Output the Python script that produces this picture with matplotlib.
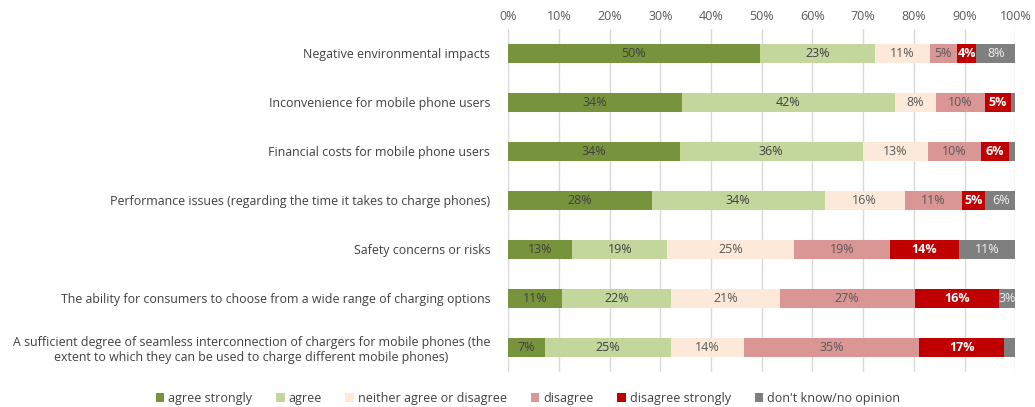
import numpy as np
import matplotlib.pyplot as plt

plt.rcParams['font.family'] = ['Open Sans', 'DejaVu Sans']

categories = [
    'Negative environmental impacts',
    'Inconvenience for mobile phone users',
    'Financial costs for mobile phone users',
    'Performance issues (regarding the time it takes to charge phones)',
    'Safety concerns or risks',
    'The ability for consumers to choose from a wide range of charging options',
    'A sufficient degree of seamless interconnection of chargers for mobile phones (the\n'
    'extent to which they can be used to charge different mobile phones)',
]

series_names = ['agree strongly', 'agree', 'neither agree or disagree',
                'disagree', 'disagree strongly', "don't know/no opinion"]

agree_strongly = [49.6, 34.3, 33.8, 28.3, 12.6, 10.6, 7.3]
agree = [22.7, 41.9, 36.1, 34.1, 18.8, 21.6, 24.8]
neither = [10.8, 8.1, 12.9, 15.8, 25.0, 21.3, 14.3]
disagree = [5.4, 9.8, 10.4, 11.3, 18.8, 26.7, 34.7]
disagree_strongly = [3.8, 5.0, 5.6, 4.6, 13.7, 16.5, 16.7]
dont_know = [7.7, 0.8, 1.3, 6.0, 11.2, 3.4, 2.2]

colors = ['#77933C', '#C3D69B', '#FDE9D9', '#D99694', '#C00000', '#7F7F7F']
text_colors = ['#404040', '#404040', '#595959', '#595959', 'white', '#F2F2F2']

series = [agree_strongly, agree, neither, disagree, disagree_strongly, dont_know]

fig = plt.figure(figsize=(10.35, 4.07), dpi=100)
ax = fig.add_axes([0.491, 0.086, 0.49, 0.843])

y = np.arange(len(categories))
left = np.zeros(len(categories))
for i, vals in enumerate(series):
    vals = np.array(vals)
    ax.barh(y, vals, left=left, height=0.39, color=colors[i],
            label=series_names[i], zorder=3)
    for j, v in enumerate(vals):
        if v >= 3:
            ax.text(left[j] + v / 2, y[j], '%d%%' % round(v), ha='center', va='center',
                    fontsize=9, color=text_colors[i],
                    fontweight='bold' if i == 4 else 'normal', zorder=4)
    left = left + vals

ax.set_xlim(0, 100)
ax.set_ylim(6.5, -0.5)
ax.set_xticks(np.arange(0, 101, 10))
ax.set_xticklabels(['%d%%' % t for t in range(0, 101, 10)])
ax.xaxis.tick_top()
ax.tick_params(axis='x', length=0, pad=4, labelsize=9, labelcolor='#595959')
ax.tick_params(axis='y', length=0, pad=13, labelsize=8.9, labelcolor='#404040')
ax.set_yticks(y)
ax.set_yticklabels(categories, multialignment='center')
ax.grid(axis='x', color='#D9D9D9', linewidth=1, zorder=0)
for s in ax.spines.values():
    s.set_visible(False)

fig.legend(loc='lower center', bbox_to_anchor=(0.51, -0.022), ncol=6, frameon=False,
           fontsize=9, handlelength=0.7, handleheight=0.7, handletextpad=0.3,
           columnspacing=1.9, labelcolor='#404040')

fig.savefig('out.png', dpi=100)
